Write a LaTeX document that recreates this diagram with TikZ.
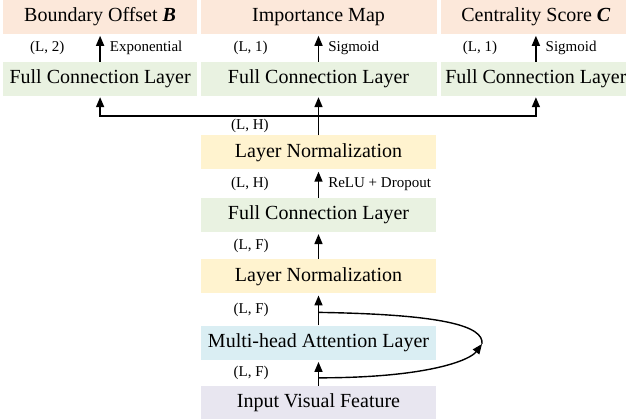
\documentclass[tikz,border=0pt]{standalone}
\usepackage{fontspec}
\setmainfont{Liberation Serif}
\usetikzlibrary{positioning,arrows.meta}

\definecolor{outcol}{RGB}{252,232,218}
\definecolor{fccol}{RGB}{233,242,225}
\definecolor{lncol}{RGB}{255,243,207}
\definecolor{attcol}{RGB}{218,238,243}
\definecolor{incol}{RGB}{232,230,240}

\begin{document}
\begin{tikzpicture}[x=1pt, y=1pt, node distance=28pt,
                    layer node/.style={rectangle, inner sep=0pt, minimum width=235pt, minimum height=34pt,
                                       font=\fontsize{20}{24}\selectfont},
                    label node/.style={inner sep=0pt, font=\fontsize{15}{18}\selectfont},
                    flow/.style={-{Triangle[width=8pt,length=10pt]}, line width=1.6pt, shorten >=2pt}]

  \useasboundingbox (0,0) rectangle (626,-419);

  % main column
  \node[layer node, fill=lncol] (ln1) at (318.5,-152.5) {Layer Normalization};
  \node[layer node, fill=fccol, below=28pt of ln1] (fc) {Full Connection Layer};
  \node[layer node, fill=lncol, below=27pt of fc] (ln2) {Layer Normalization};
  \node[layer node, fill=attcol, below=32pt of ln2] (mha) {Multi-head Attention Layer};
  \node[layer node, fill=incol, below=26pt of mha] (input) {Input Visual Feature};

  % heads
  \node[layer node, fill=fccol, minimum width=236pt] (fcMap) at (318.5,-79) {Full Connection Layer};
  \node[layer node, fill=fccol, minimum width=194pt, left=3pt of fcMap] (fcB) {Full Connection Layer};
  \node[layer node, fill=fccol, minimum width=190pt, right=4pt of fcMap] (fcC) {Full Connection Layer};
  \node[layer node, fill=outcol, minimum width=236pt, above=28pt of fcMap] (outMap) {Importance Map};
  \node[layer node, fill=outcol, minimum width=194pt, above=28pt of fcB] (outB) {Boundary Offset \textbf{\textit{B}}};
  \node[layer node, fill=outcol, minimum width=190pt, above=28pt of fcC] (outC) {Centrality Score \textbf{\textit{C}}};

  \coordinate (split) at (318.5,-116);
  \coordinate (resTip) at (482,-344);

  \draw[flow] (fcB) -- node[label node, left=35pt] {(L, 2)} node[label node, right=9pt] {Exponential} (outB);
  \draw[flow] (fcMap) -- node[label node, left=50pt] {(L, 1)} node[label node, right=9pt] {Sigmoid} (outMap);
  \draw[flow] (fcC) -- node[label node, left=38pt] {(L, 1)} node[label node, right=9pt] {Sigmoid} (outC);

  \draw[line width=1.6pt] (ln1) -- node[label node, left=49pt] {(L, H)} (split);
  \draw[flow, shorten >=1pt] (split) -- (fcMap);
  \draw[flow, shorten >=1pt] (split) -| (fcB);
  \draw[flow, shorten >=1pt] (split) -| (fcC);

  \draw[flow] (fc) -- node[label node, left=49pt] {(L, H)} node[label node, right=9pt] {ReLU + Dropout} (ln1);
  \draw[flow] (ln2) -- node[label node, left=49pt] {(L, F)} (fc);
  \draw[flow] (mha) -- coordinate[pos=0.41] (resTop) node[label node, left=49pt] {(L, F)} (ln2);
  \draw[flow] (input) -- coordinate[pos=0.31] (resBot) node[label node, left=49pt] {(L, F)} (mha);

  % residual
  \draw[line width=1.4pt] (resTop) .. controls +(125,-2) and +(2,18) .. (resTip);
  \draw[flow, line width=1.4pt, shorten >=0pt] (resBot) .. controls +(110,0) and +(-12,-16) .. (resTip);

\end{tikzpicture}
\end{document}
